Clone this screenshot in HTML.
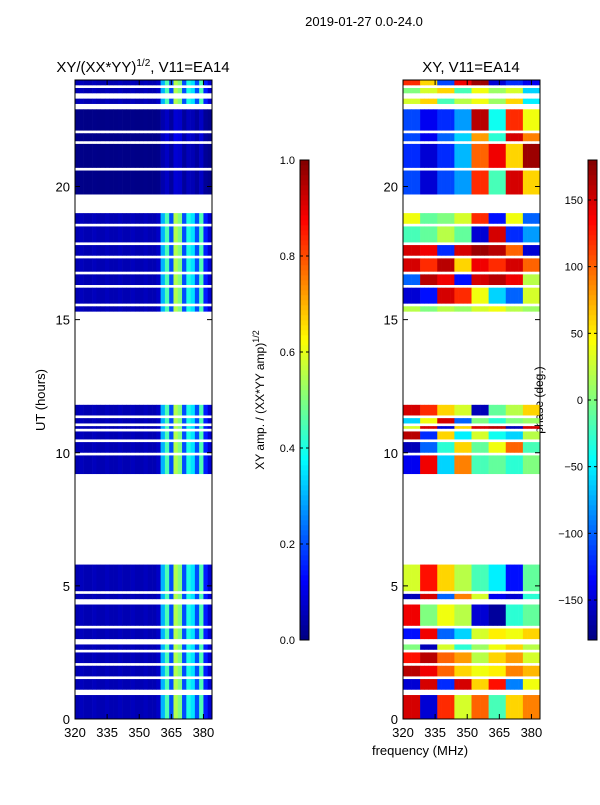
<!DOCTYPE html>
<html><head><meta charset="utf-8"><style>
body{margin:0;background:#fff;width:600px;height:800px;overflow:hidden}
svg text{font-family:"Liberation Sans",sans-serif;fill:#000}
</style></head><body>
<svg id="c" width="600" height="800" xmlns="http://www.w3.org/2000/svg">
<text x="364" y="26" font-size="13" text-anchor="middle">2019-01-27 0.0-24.0</text>
<text x="143" y="72" font-size="15" text-anchor="middle">XY/(XX*YY)<tspan font-size="10" dy="-6">1/2</tspan><tspan dy="6">, V11=EA14</tspan></text>
<text x="471" y="72" font-size="15" text-anchor="middle">XY, V11=EA14</text>
<text x="45" y="400" font-size="13" text-anchor="middle" transform="rotate(-90 45 400)">UT (hours)</text>
<text x="420" y="755" font-size="13" text-anchor="middle">frequency (MHz)</text>
<text x="264" y="400" font-size="12" text-anchor="middle" transform="rotate(-90 264 400)">XY amp. / (XX*YY amp)<tspan font-size="9" dy="-5">1/2</tspan></text>
<text x="543" y="400" font-size="12" text-anchor="middle" transform="rotate(-90 543 400)">phase (deg.)</text>
<g id="left"></g>
<g id="right"></g>
<g id="axes"></g>
</svg>
<script>
const blocks=[[0.0,0.9],[1.1,1.5],[1.6,2.0],[2.1,2.5],[2.6,2.8],[3.0,3.4],[3.5,4.3],[4.5,4.7],[4.8,5.8],[9.2,9.9],[10.0,10.4],[10.5,10.8],[10.9,11.0],[11.1,11.3],[11.4,11.8],[15.3,15.5],[15.6,16.2],[16.3,16.7],[16.8,17.3],[17.4,17.8],[17.9,18.5],[18.6,19.0],[19.7,20.6],[20.7,21.6],[21.7,22.0],[22.1,22.9],[23.1,23.3],[23.5,23.7],[23.8,24.0]];
const ampProfile=[0.05,0.06,0.05,0.05,0.06,0.05,0.05,0.06,0.05,0.05,0.06,0.05,0.05,0.06,0.05,0.05,0.06,0.05,0.05,0.07,0.3,0.45,0.2,0.55,0.5,0.2,0.4,0.35,0.2,0.45,0.15,0.08];
const ampScale=[1,1,1,1,1,1,1,1,1,1,1,1,1,1,1,1,1,1,1,1,1,1,0.15,0.15,0.2,0.15,1,1,1];
const phase=[[150,-150,120,30,100,-20,60,90],[-150,150,-120,150,60,130,-90,40],[160,140,100,60,40,50,90,70],[130,160,100,80,20,60,80,30],[0,-160,30,-30,10,40,60,20],[-130,140,-100,-60,30,50,40,60],[140,0,40,20,-150,-170,-30,-10],[-160,150,-100,90,30,-140,-150,-30],[30,130,60,20,-20,-50,-130,-10],[-140,140,-60,90,-20,-10,-30,0],[-160,-100,-30,60,-10,40,100,-20],[160,-120,60,-50,30,-40,-60,20],[30,150,-150,60,150,160,-160,150],[-60,40,150,-100,0,-30,0,10],[150,120,60,30,-160,-10,20,60],[20,0,20,10,30,40,20,10],[-150,-130,150,120,40,-60,-100,30],[-100,160,140,-130,150,160,140,20],[150,120,160,60,140,120,150,100],[150,140,-120,150,170,160,100,-150],[-20,-10,20,-10,-150,150,-120,-80],[40,-10,0,30,120,-130,40,-100],[-110,-150,-110,-80,120,-20,150,60],[-120,-150,-120,-70,100,140,60,170],[-110,-140,-100,-60,80,-30,150,90],[-110,-140,-120,-80,160,-40,120,40],[30,60,-20,20,40,10,60,-50],[0,30,60,-20,40,10,30,-60],[120,60,-110,140,170,-150,-120,-140]];
const xTicks=[320,335,350,365,380];
const yTicks=[0,5,10,15,20];
const ampTicks=["0.0","0.2","0.4","0.6","0.8","1.0"];
const phaseTicks=[-150,-100,-50,0,50,100,150];
const NS='http://www.w3.org/2000/svg';
function jet(v){v=Math.max(0,Math.min(1,v));
 const r=Math.max(0,Math.min(1,1.5-Math.abs(4*v-3))),g=Math.max(0,Math.min(1,1.5-Math.abs(4*v-2))),b=Math.max(0,Math.min(1,1.5-Math.abs(4*v-1)));
 return `rgb(${Math.round(r*255)},${Math.round(g*255)},${Math.round(b*255)})`;}
function mk(p,t,a){const e=document.createElementNS(NS,t);for(const k in a)e.setAttribute(k,a[k]);p.appendChild(e);return e;}
const Y=h=>719-h*(639/24);
const panels=[{x0:75,g:'left'},{x0:403,g:'right'}];
const X=(x0,f)=>x0+(f-320)*(137/64);
panels.forEach((p,pi)=>{const g=document.getElementById(p.g);
 blocks.forEach((b,bi)=>{for(let c=0;c<32;c++){
  const f=320+2*c;let col;
  if(pi===0)col=jet(ampProfile[c]*ampScale[bi]);
  else col=jet((phase[bi][Math.floor(c/4)]+180)/360);
  const r=mk(g,'rect',{x:X(p.x0,f),y:Y(b[1]),width:X(p.x0,f+2)-X(p.x0,f)+0.3,height:Y(b[0])-Y(b[1]),fill:col});
  
  
 }});
});
const ax=document.getElementById('axes');
panels.forEach((p,pi)=>{
 const fr=mk(ax,'rect',{x:p.x0,y:80,width:137,height:639,fill:'none',stroke:'#000','stroke-width':1});
 
 
 xTicks.forEach(t=>{const x=X(p.x0,t);
  mk(ax,'line',{x1:x,x2:x,y1:719,y2:714,stroke:'#000'});mk(ax,'line',{x1:x,x2:x,y1:80,y2:85,stroke:'#000'});
  const tx=mk(ax,'text',{x:x,y:737,'font-size':13,'text-anchor':'middle'});tx.textContent=t;
  
  });
 yTicks.forEach(t=>{const y=Y(t);
  mk(ax,'line',{x1:p.x0,x2:p.x0+5,y1:y,y2:y,stroke:'#000'});mk(ax,'line',{x1:p.x0+137,x2:p.x0+132,y1:y,y2:y,stroke:'#000'});
  const tx=mk(ax,'text',{x:p.x0-5,y:y+5,'font-size':13,'text-anchor':'end'});tx.textContent=t;
  
  });
});
// colorbars
[{x:300,name:'amp-colorbar'},{x:588,name:'phase-colorbar'}].forEach((cb,ci)=>{
 for(let i=0;i<96;i++){const r=mk(ax,'rect',{x:cb.x,y:640-(i+1)*5,width:9,height:5.3,fill:jet((i+0.5)/96)});
  
  }
 const f=mk(ax,'rect',{x:cb.x,y:160,width:9,height:480,fill:'none',stroke:'#000'});
 
 
 const ticks=ci?phaseTicks:ampTicks;
 ticks.forEach((t,i)=>{const y=ci?640-(t+180)/360*480:640-i*96;
  mk(ax,'line',{x1:cb.x,x2:cb.x+3,y1:y,y2:y,stroke:'#000'});mk(ax,'line',{x1:cb.x+9,x2:cb.x+6,y1:y,y2:y,stroke:'#000'});
  const tx=mk(ax,'text',{x:cb.x-5,y:y+4,'font-size':11,'text-anchor':'end'});tx.textContent=ci?String(t).replace('-','\u2212'):t;
  
  });
});
</script>
</body></html>
